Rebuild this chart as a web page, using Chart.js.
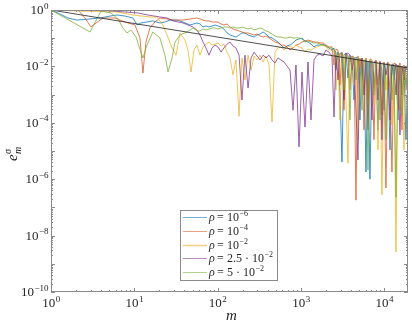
<!DOCTYPE html>
<html>
<head>
<meta charset="utf-8">
<script src="https://cdn.jsdelivr.net/npm/chart.js@4.4.0/dist/chart.umd.min.js"></script>
<style>
  html, body { margin: 0; padding: 0; background: #fff; }
  canvas { display: block; }
</style>
</head>
<body>
<canvas id="chart" width="412" height="327"></canvas>
<script>
// --- values ---

// first decade and a half, each curve has its own samples
const mLowBlue = [1, 1.28, 1.6, 2.05, 2.94, 3.87, 5.11, 6.2, 7.73, 9.64, 10.8, 12.0, 14.2, 16.7, 20.3, 23.3, 26.8, 32.5, 38.4, 46.6, 56.5];
const eLowBlue = [1, 0.72, 0.52, 0.44, 0.48, 0.52, 0.61, 0.665, 0.61, 0.52, 0.294, 0.346, 0.375, 0.41, 0.346, 0.375, 0.44, 0.44, 0.375, 0.294, 0.346];

const mLowOrange = [1, 1.47, 2.11, 2.56, 3.02, 3.47, 4.21, 5.87, 7.73, 10.2, 11.7, 12.7, 13.8, 15.4, 17.7, 20.3, 24.7, 29.2, 38.4, 46.6, 56.5];
const eLowOrange = [1, 1, 1, 0.52, 0.25, 0.346, 0.52, 0.52, 0.375, 0.294, 0.102, 0.0058, 0.073, 0.23, 0.375, 0.52, 0.48, 0.44, 0.44, 0.48, 0.52];

const mLowYellow = [1, 2.23, 6.2, 9.64, 15.4, 18.7, 22.1, 24.7, 28.4, 31.7, 35.4, 40.6, 44.1, 48.0, 52.1, 56.5];
const eLowYellow = [1, 0.92, 0.85, 0.665, 0.565, 0.565, 0.294, 0.13, 0.045, 0.025, 0.153, 0.086, 0.038, 0.0063, 0.038, 0.057];

const mLowPurple = [1, 3.87, 7.73, 11.1, 14.6, 20.3, 24.7, 29.2, 38.4, 50.7, 56.5];
const eLowPurple = [1, 1, 0.85, 0.783, 0.665, 0.565, 0.52, 0.41, 0.346, 0.25, 0.195];

const mLowGreen = [1, 2.94, 3.98, 5.25, 6.37, 7.31, 8.17, 9.12, 10.5, 12.0, 12.7, 14.2, 16.7, 20.3, 23.3, 25.4, 28.4, 30.8, 35.4, 42.9, 50.7, 58.2];
const eLowGreen = [1, 0.166, 0.92, 0.783, 0.48, 0.23, 0.153, 0.195, 0.11, 0.032, 0.0199, 0.057, 0.166, 0.102, 0.025, 0.0063, 0.0199, 0.073, 0.13, 0.166, 0.23, 0.18];

// middle part, shared m samples
const mMid = [61.5, 66.8, 72.6, 78.8, 85.7, 93.1, 101, 110, 119, 130, 141, 153, 166, 181, 196, 213, 232, 252, 274, 297,
  323, 351, 381, 414, 450, 489, 531, 577, 627, 681, 740, 804, 873, 949, 1031, 1120, 1217, 1322, 1436, 1560,
  1694, 1841, 2000, 2173];

const eMidBlue = [0.32, 0.25, 0.271, 0.25, 0.271, 0.294, 0.271, 0.25, 0.212, 0.153, 0.13, 0.12, 0.11, 0.13, 0.153, 0.153, 0.13, 0.12, 0.11, 0.13,
  0.141, 0.166, 0.141, 0.11, 0.102, 0.086, 0.073, 0.057, 0.045, 0.053, 0.057, 0.068, 0.086, 0.094, 0.102, 0.080, 0.073, 0.062, 0.049, 0.057,
  0.057, 0.062, 0.053, 0.045];
const eMidOrange = [0.48, 0.44, 0.41, 0.41, 0.375, 0.375, 0.375, 0.32, 0.294, 0.32, 0.25, 0.212, 0.195, 0.18, 0.166, 0.153, 0.153, 0.141, 0.13, 0.141,
  0.12, 0.11, 0.12, 0.102, 0.086, 0.073, 0.068, 0.057, 0.057, 0.049, 0.038, 0.045, 0.057, 0.062, 0.073, 0.080, 0.086, 0.080, 0.073, 0.073,
  0.068, 0.068, 0.057, 0.049];
const eMidYellow = [0.025, 0.049, 0.062, 0.073, 0.057, 0.062, 0.068, 0.053, 0.062, 0.032, 0.0199, 0.0050, 0.0169, 0.00017, 0.0199, 0.0033, 0.025, 0.0074, 0.0234, 0.0169,
  0.025, 0.0143, 0.0234, 0.0112, 0.000107, 0.032, 0.045, 0.049, 0.038, 0.049, 0.053, 0.045, 0.057, 0.049, 0.045, 0.032, 0.041, 0.038, 0.045, 0.049,
  0.053, 0.057, 0.049, 0.038];
const eMidPurple = [0.13, 0.073, 0.045, 0.025, 0.045, 0.057, 0.049, 0.032, 0.045, 0.062, 0.073, 0.053, 0.045, 0.025, 0.00064, 0.025, 0.0017, 0.0199, 0.032, 0.0234,
  0.0169, 0.025, 0.0199, 0.025, 0.0169, 0.0132, 0.0199, 0.0169, 0.0143, 0.0103, 0.0074, 0.00028, 0.0112, 0.000014, 0.0063, 0.000071, 0.0143, 0.000126, 0.0169, 0.025,
  0.0275, 0.0234, 0.038, 0.032];
const eMidGreen = [0.18, 0.212, 0.195, 0.212, 0.23, 0.23, 0.212, 0.23, 0.25, 0.25, 0.23, 0.25, 0.23, 0.23, 0.25, 0.23, 0.212, 0.23, 0.195, 0.212,
  0.23, 0.212, 0.18, 0.166, 0.141, 0.12, 0.11, 0.11, 0.102, 0.102, 0.11, 0.102, 0.102, 0.102, 0.094, 0.073, 0.080, 0.073, 0.068, 0.068,
  0.062, 0.057, 0.053, 0.045];

// last decade and a bit, dense and spiky, shared m samples
const mDense = [2361, 2497, 2637, 2787, 2944, 3112, 3289, 3475, 3673, 3882, 4103, 4335, 4581, 4842, 5117, 5408, 5715, 6039, 6383, 6745,
  7129, 7534, 7962, 8414, 8892, 9397, 9931, 10495, 11092, 11722, 12388, 13092, 13836, 14622, 15453, 16331, 17259, 18239, 19275];

const eDenseBlue = [0.038, 0.045, 0.0074, 0.032, 0.00097, 4.1e-6, 0.025, 0.030, 0.0039, 0.025, 0.0199, 0.00064, 0.0216, 0.0169, 0.000126, 0.0199, 0.0143, 1.8e-6, 0.0155, 1.0e-6,
  0.0143, 0.0017, 0.0122, 0.000056, 0.0143, 0.0074, 0.00028, 0.0122, 0.0132, 1.1e-5, 0.0112, 0.0033, 0.0122, 0.000126, 0.0103, 0.00097, 0.0095, 2.5e-5, 0.0088];
const eDenseOrange = [0.049, 0.0112, 0.041, 0.038, 0.0022, 0.032, 0.00028, 0.0275, 0.025, 0.00146, 0.0234, 0.0216, 1.8e-7, 0.0234, 0.0050, 0.0199, 0.000056, 0.0199, 0.00064, 0.0183,
  0.0169, 2.5e-5, 0.0169, 0.0022, 0.0155, 0.00019, 0.0143, 4.9e-7, 0.0143, 0.00146, 1.8e-6, 0.0132, 0.0122, 0.00028, 0.0132, 0.000056, 0.0112, 0.00146, 0.0103];
const eDenseYellow = [0.038, 0.032, 0.00146, 0.025, 0.000126, 0.030, 0.0234, 0.00064, 3.7e-6, 0.0216, 0.0199, 0.0022, 0.0183, 2.5e-5, 0.0199, 0.00097, 0.0169, 0.0143, 8.4e-5, 0.0169,
  0.0155, 0.00043, 0.0143, 1.1e-5, 0.0143, 2.8e-7, 0.0132, 0.00146, 0.0122, 0.0122, 8.4e-5, 0.0112, 2.6e-9, 0.0112, 0.00028, 0.0103, 1.1e-5, 0.0103, 0.0095];
const eDensePurple = [0.0234, 0.00016, 0.025, 0.0033, 0.0275, 0.030, 0.00064, 0.0275, 0.030, 0.025, 0.0074, 0.0199, 0.00028, 4.8e-6, 0.0183, 0.0169, 0.00097, 0.0169, 0.000056, 0.0155,
  0.000126, 0.0143, 0.0155, 0.00064, 0.0143, 2.5e-5, 0.0132, 0.0050, 0.0122, 0.000126, 0.0122, 0.0112, 0.00097, 0.0112, 3.7e-5, 0.0103, 0.0033, 0.0095, 0.0088];
const eDenseGreen = [0.045, 0.038, 0.032, 0.0169, 0.030, 0.0275, 0.00146, 0.025, 0.0234, 0.000126, 0.0216, 0.0199, 0.0033, 0.0199, 0.0183, 0.00028, 0.0169, 0.0169, 2.1e-6, 0.0155,
  0.0143, 0.00097, 0.0143, 0.0132, 0.000126, 0.0132, 0.0122, 2.5e-5, 0.0122, 0.0112, 0.00064, 0.0112, 2.3e-7, 0.0103, 0.0103, 0.00019, 0.0095, 0.0022, 0.0088];

// black reference line (straight in log-log)
const mSlope = [1, 19300];
const eSlope = [1, 0.0088];

// ticks and legend text
const xLabelExps = ['0', '1', '2', '3', '4'];
const yLabelExps = ['0', '\u22122', '\u22124', '\u22126', '\u22128', '\u221210'];
const legendPrefix = ['', '', '', '2.5 \u00b7 ', '5 \u00b7 '];
const legendExp = ['\u22126', '\u22124', '\u22122', '\u22122', '\u22122'];
const lineColors = ['0,114,189', '217,83,25', '237,177,32', '126,47,142', '119,172,48'];

function series(ms, es) {
  return ms.map((m, i) => ({ x: m, y: es[i] }));
}

const curves = [
  series(mLowBlue.concat(mMid, mDense), eLowBlue.concat(eMidBlue, eDenseBlue)),
  series(mLowOrange.concat(mMid, mDense), eLowOrange.concat(eMidOrange, eDenseOrange)),
  series(mLowYellow.concat(mMid, mDense), eLowYellow.concat(eMidYellow, eDenseYellow)),
  series(mLowPurple.concat(mMid, mDense), eLowPurple.concat(eMidPurple, eDensePurple)),
  series(mLowGreen.concat(mMid, mDense), eLowGreen.concat(eMidGreen, eDenseGreen))
];

const SERIF = '"Liberation Serif", "DejaVu Serif", serif';

// "10" with a raised exponent; returns nothing, draws at baseline y
function drawPower(ctx, pre, exp, x, y, align, size) {
  const big = size + 'px ' + SERIF;
  const small = Math.round(size * 0.7) + 'px ' + SERIF;
  ctx.font = big;
  const wb = ctx.measureText(pre + '10').width;
  ctx.font = small;
  const we = ctx.measureText(exp).width;
  let left = x;
  if (align === 'center') left = x - (wb + we) / 2;
  if (align === 'right') left = x - wb - we;
  ctx.textAlign = 'left';
  ctx.font = big;
  ctx.fillText(pre + '10', left, y);
  ctx.font = small;
  ctx.fillText(exp, left + wb + 0.5, y - size * 0.42);
}

const decorations = {
  id: 'decorations',
  afterDatasetsDraw(chart) {
    const ctx = chart.ctx;
    const a = chart.chartArea;
    const xs = chart.scales.x;
    const ys = chart.scales.y;
    ctx.save();

    // inward ticks on all four sides
    ctx.strokeStyle = '#8a8a8a';
    ctx.lineWidth = 1;
    ctx.beginPath();
    for (let d = 0; d <= 4; d++) {
      for (let k = 1; k <= 9; k++) {
        const v = k * Math.pow(10, d);
        if (v > xs.max) break;
        const px = Math.round(xs.getPixelForValue(v)) + 0.5;
        const len = k === 1 ? 4 : 2;
        ctx.moveTo(px, a.bottom); ctx.lineTo(px, a.bottom - len);
        ctx.moveTo(px, a.top); ctx.lineTo(px, a.top + len);
      }
    }
    for (let d = -10; d <= 0; d++) {
      for (let k = 1; k <= 9; k++) {
        const v = k * Math.pow(10, d);
        if (v > ys.max) break;
        const py = Math.round(ys.getPixelForValue(v)) + 0.5;
        const len = k === 1 ? 4 : 2;
        ctx.moveTo(a.left, py); ctx.lineTo(a.left + len, py);
        ctx.moveTo(a.right, py); ctx.lineTo(a.right - len, py);
      }
    }
    ctx.stroke();
    ctx.strokeRect(a.left + 0.5, a.top + 0.5, a.right - a.left - 1, a.bottom - a.top - 1);

    // tick labels
    ctx.fillStyle = '#262626';
    ctx.textBaseline = 'alphabetic';
    xLabelExps.forEach((e, i) => {
      const px = xs.getPixelForValue(Math.pow(10, i));
      drawPower(ctx, '', e, px, 307, 'center', 13);
    });
    yLabelExps.forEach((e, i) => {
      const py = ys.getPixelForValue(Math.pow(10, -2 * i));
      drawPower(ctx, '', e, 48, py + 4, 'right', 13);
    });

    // axis titles
    ctx.font = 'italic 15px ' + SERIF;
    ctx.textAlign = 'center';
    ctx.fillText('m', (a.left + a.right) / 2 + 2, 320);

    ctx.save();
    ctx.translate(17, 152);
    ctx.rotate(-Math.PI / 2);
    ctx.textAlign = 'left';
    ctx.font = 'italic 15px ' + SERIF;
    ctx.fillText('e', -9, 0);
    ctx.font = 'italic 10px ' + SERIF;
    ctx.fillText('\u03c3', -2, -6);
    ctx.fillText('m', -2, 4);
    ctx.restore();

    // legend box
    const bx = 180, by = 210, bw = 98, bh = 71;
    ctx.fillStyle = '#fff';
    ctx.fillRect(bx, by, bw, bh);
    ctx.strokeStyle = '#8a8a8a';
    ctx.strokeRect(bx + 0.5, by + 0.5, bw - 1, bh - 1);
    legendExp.forEach((e, i) => {
      const ry = 217 + i * 13.8;
      ctx.strokeStyle = 'rgba(' + lineColors[i] + ',0.55)';
      ctx.lineWidth = i === 2 ? 1.6 : 1;
      ctx.beginPath();
      ctx.moveTo(183, Math.round(ry) + 0.5);
      ctx.lineTo(207, Math.round(ry) + 0.5);
      ctx.stroke();
      ctx.fillStyle = '#262626';
      ctx.textAlign = 'left';
      ctx.font = 'italic 12px ' + SERIF;
      ctx.fillText('\u03c1', 209, ry + 4);
      ctx.font = '12px ' + SERIF;
      ctx.fillText('=', 217, ry + 4);
      drawPower(ctx, legendPrefix[i], e, 227, ry + 4, 'left', 12);
    });
    ctx.restore();
  }
};

new Chart(document.getElementById('chart'), {
  type: 'line',
  data: {
    datasets: [
      { data: curves[0], borderColor: 'rgba(' + lineColors[0] + ',0.75)', order: 5 },
      { data: curves[1], borderColor: 'rgba(' + lineColors[1] + ',0.75)', order: 4 },
      { data: curves[2], borderColor: 'rgba(' + lineColors[2] + ',0.75)', order: 3 },
      { data: curves[3], borderColor: 'rgba(' + lineColors[3] + ',0.75)', order: 2 },
      { data: curves[4], borderColor: 'rgba(' + lineColors[4] + ',0.75)', order: 1 },
      { data: series(mSlope, eSlope), borderColor: '#222', borderWidth: 0.8, order: 0 }
    ]
  },
  options: {
    responsive: false,
    animation: false,
    devicePixelRatio: 1,
    layout: { padding: { left: 51, top: 10, right: 4, bottom: 35 } },
    plugins: { legend: { display: false }, tooltip: { enabled: false } },
    elements: { point: { radius: 0 }, line: { borderWidth: 1, tension: 0 } },
    scales: {
      x: { type: 'logarithmic', min: 1, max: 19300, display: false },
      y: { type: 'logarithmic', min: 1e-10, max: 1, display: false }
    }
  },
  plugins: [decorations]
});
</script>
</body>
</html>
